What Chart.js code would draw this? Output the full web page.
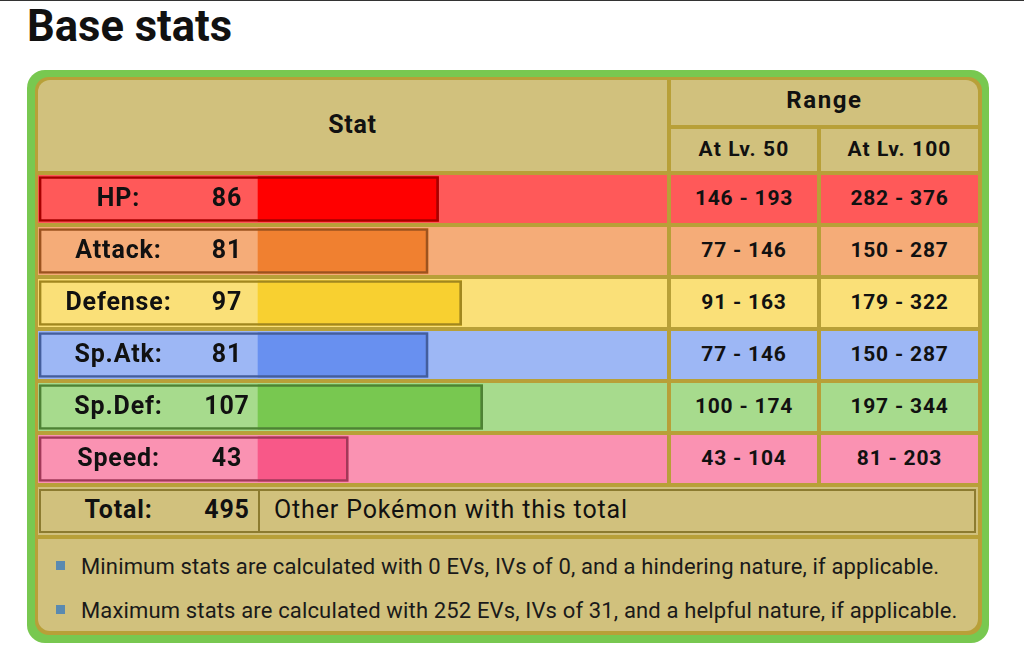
<!DOCTYPE html>
<html><head><meta charset="utf-8">
<script src="https://cdn.jsdelivr.net/npm/chart.js@4/dist/chart.umd.min.js"></script>
<style>
html,body{margin:0;padding:0;background:#fff;}
body{width:1024px;height:658px;position:relative;overflow:hidden;font-family:Roboto,"Noto Sans",sans-serif;color:#111;}
.abs{position:absolute;box-sizing:border-box;}
.c{display:flex;align-items:center;justify-content:center;white-space:nowrap;}
</style></head><body>
<div class="abs" style="left:0;top:0;width:1024px;height:1px;background:#333"></div>
<div class="abs" style="left:27px;top:5px;font-size:43.5px;font-weight:700;line-height:43.5px;white-space:nowrap;">Base stats</div>
<div class="abs" style="left:27px;top:70px;width:962px;height:573px;background:#78C850;border-radius:18px;"></div>
<div class="abs" style="left:35px;top:77px;width:947px;height:558px;background:#B8A038;border-radius:14px;"></div>
<div id="cells"></div>
<canvas id="bars" class="abs" width="629" height="312" style="left:38px;top:173px;width:629px;height:312px;"></canvas>
<script>
// ---- data ----
const statNames = ['HP', 'Attack', 'Defense', 'Sp.Atk', 'Sp.Def', 'Speed'];
const baseStats = [86, 81, 97, 81, 107, 43];
const lv50Min = [146, 77, 91, 77, 100, 43];
const lv50Max = [193, 146, 163, 146, 174, 104];
const lv100Min = [282, 150, 179, 150, 197, 81];
const lv100Max = [376, 287, 322, 287, 344, 203];
const totalLabel = 'Total:';
const totalText = 'Other Pokémon with this total';
const notes = [
  'Minimum stats are calculated with 0 EVs, IVs of 0, and a hindering nature, if applicable.',
  'Maximum stats are calculated with 252 EVs, IVs of 31, and a helpful nature, if applicable.'
];
// ---- colours ----
const lightColors = ['#FF5959', '#F5AC78', '#FAE078', '#9DB7F5', '#A7DB8D', '#FA92B2'];
const barColors   = ['#FF0000', '#F08030', '#F8D030', '#6890F0', '#78C850', '#F85888'];
const darkColors  = ['#A60000', '#9C531F', '#A1871F', '#445E9C', '#4E8234', '#A13959'];
const TAN = '#D1C17D';

const cells = document.getElementById('cells');
function box(x, y, w, h, css, html) {
  const d = document.createElement('div');
  d.className = 'abs c';
  d.style.cssText += `left:${x}px;top:${y}px;width:${w}px;height:${h}px;` + (css || '');
  if (html !== undefined) d.textContent = html;
  cells.appendChild(d);
  return d;
}
const B25 = 'font-weight:700;font-size:25px;letter-spacing:0.85px;padding-bottom:3px;';
const B21 = 'font-weight:700;font-size:21px;letter-spacing:0.8px;padding-bottom:2px;';
// header
box(38, 80, 629, 91, `background:${TAN};border-radius:12px 0 0 0;font-weight:700;font-size:25px;letter-spacing:0.75px;padding-bottom:3px;`, 'Stat');
box(671, 80, 307, 45, `background:${TAN};border-radius:0 12px 0 0;font-weight:700;font-size:24px;letter-spacing:1.6px;padding-bottom:5px;`, 'Range');
box(671, 129, 146, 42, `background:${TAN};font-weight:700;font-size:21px;letter-spacing:1.1px;padding-bottom:2px;`, 'At Lv. 50');
box(821, 129, 157, 42, `background:${TAN};font-weight:700;font-size:21px;letter-spacing:1.1px;padding-bottom:2px;`, 'At Lv. 100');
// stat rows
statNames.forEach((n, i) => {
  const y = 175 + 52 * i;
  box(38, y, 629, 48, `background:${lightColors[i]};`);
  box(39, y, 159, 48, B25 + 'z-index:2;', n + ':');
  box(198, y, 58, 48, B25 + 'z-index:2;', String(baseStats[i]));
  box(671, y, 146, 48, `background:${lightColors[i]};` + B21, `${lv50Min[i]} - ${lv50Max[i]}`);
  box(821, y, 157, 48, `background:${lightColors[i]};` + B21, `${lv100Min[i]} - ${lv100Max[i]}`);
});
// total row
const total = baseStats.reduce((a, b) => a + b, 0);
box(38, 487, 940, 48, `background:${TAN};`);
box(39, 489, 937, 44, 'border:2px solid #8C7B30;');
box(258, 489, 2, 44, 'background:#8C7B30;');
box(39, 489, 159, 44, B25, totalLabel);
box(198, 489, 58, 44, B25, String(total));
box(274, 489, 600, 44, 'font-size:25px;letter-spacing:0.86px;padding-bottom:3px;justify-content:flex-start;', totalText);
// footer
box(38, 539, 940, 92, `background:${TAN};border-radius:0 0 12px 12px;`);
notes.forEach((t, i) => {
  const y = 544 + 44 * i;
  box(56, y + 17, 9, 9, 'background:#5A8AB0;');
  box(81, y, 900, 44, 'font-size:22px;letter-spacing:0.15px;justify-content:flex-start;color:#1a1a1a;', t);
});

// ---- chart ----
const X_MIN = -104.8, X_MAX = 194.8, BOX_START = -104.3;
new Chart(document.getElementById('bars'), {
  type: 'bar',
  data: {
    labels: statNames,
    datasets: [
      { label: 'frame', data: baseStats.map(v => [BOX_START, v]), backgroundColor: 'rgba(0,0,0,0)',
        borderColor: darkColors, borderWidth: 2, borderSkipped: false, grouped: false, barThickness: 45 },
      { label: 'stat', data: baseStats.map(v => [0, v]), backgroundColor: barColors,
        borderWidth: 0, grouped: false, barThickness: 45 }
    ]
  },
  options: {
    indexAxis: 'y', responsive: false, animation: false, devicePixelRatio: 1,
    layout: { padding: 0 },
    plugins: { legend: { display: false }, tooltip: { enabled: false } },
    scales: {
      x: { display: false, min: X_MIN, max: X_MAX },
      y: { display: false }
    }
  }
});
</script>
</body></html>
